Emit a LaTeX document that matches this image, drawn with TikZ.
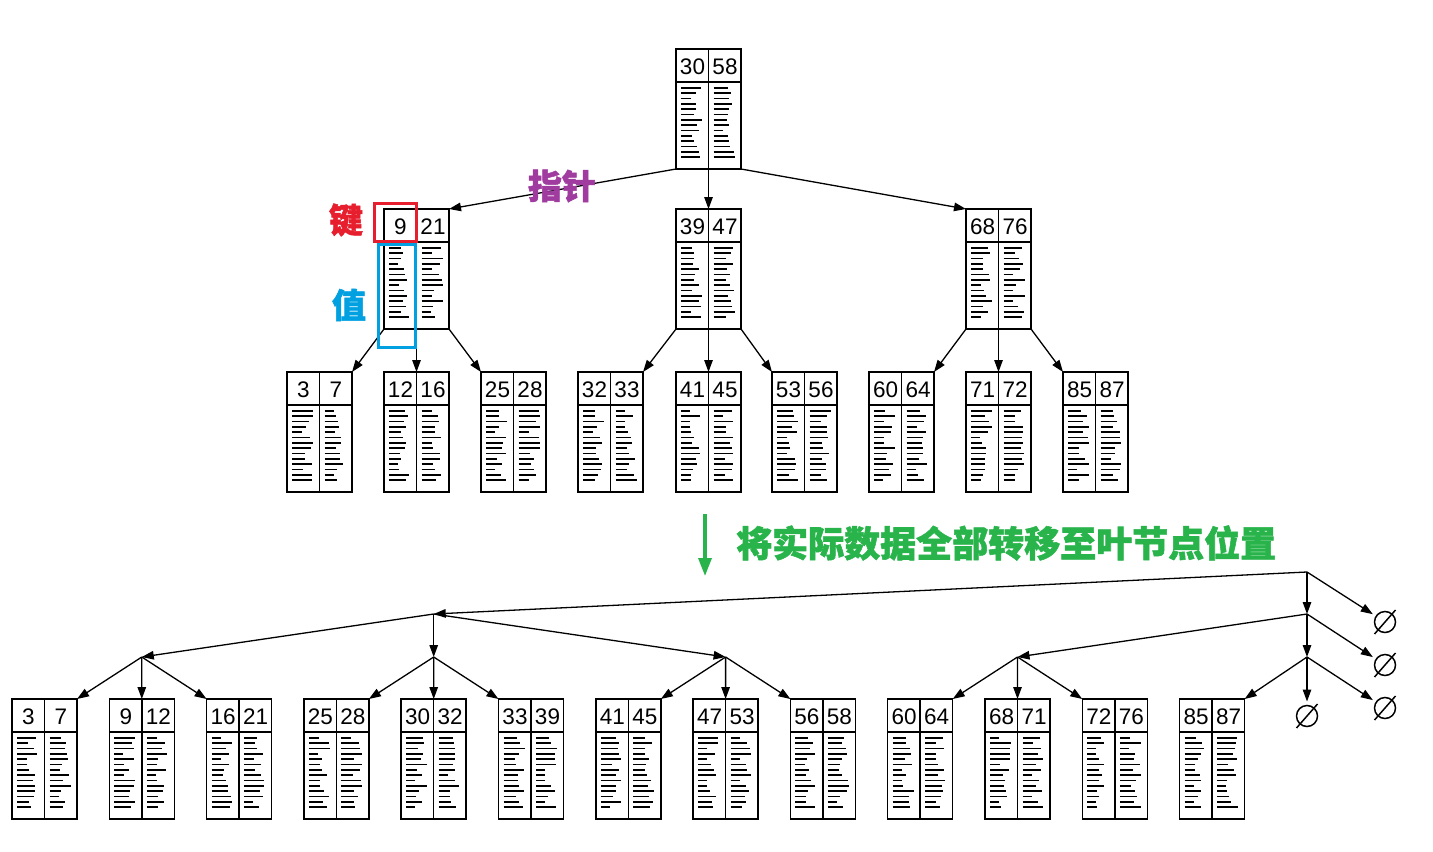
\documentclass[tikz,border=0pt]{standalone}
\usepackage{fontspec}
\setmainfont{Liberation Sans}
\newfontfamily\cjk{Noto Sans CJK SC}[BoldFeatures={FakeBold=1.5}]
\usetikzlibrary{arrows.meta}
\definecolor{keyred}{RGB}{230,30,45}
\definecolor{valblue}{RGB}{0,160,225}
\definecolor{ptrpurple}{RGB}{160,60,160}
\definecolor{movegreen}{RGB}{40,180,75}
\tikzset{
  bbox/.style={draw, line width=1.5bp, minimum width=65bp, minimum height=120bp, anchor=north west, inner sep=0pt, outer sep=0pt},
  conn/.style={line width=1.3bp, -{Triangle[length=12bp,width=8.5bp]}},
  keytxt/.style={font=\fontsize{22.5bp}{23bp}\selectfont, inner sep=0pt},
  stripe/.style={line width=1.8bp},
  nullsym/.style={draw, circle, line width=1.5bp, minimum size=21bp, inner sep=0pt, outer sep=4bp},
  cjklbl/.style={font=\cjk\bfseries\fontsize{34bp}{36bp}\selectfont, inner sep=0pt}
}
\newcommand\valcol[2]{%
  \foreach \i in {0,...,13}{%
    \pgfmathsetmacro\len{random(9,21)}%
    \draw[stripe] (#1+5,#2+5.7+\i*5.35) -- ++(\len,0);
  }}
\newcommand\bpt[5]{%
  \node[bbox] (#1) at (#2,#3) {};
  \draw[line width=1.5bp] (#2,#3+33) -- (#2+65,#3+33);
  \draw[line width=1.5bp] (#2+32.5,#3) -- (#2+32.5,#3+120);
  \node[keytxt] (#1ka) at (#2+16.5,#3+17.5) {#4};
  \node[keytxt] (#1kb) at (#2+49,#3+17.5) {#5};
  \valcol{#2}{#3+33}
  \valcol{#2+32.5}{#3+33}
}
\newcommand\nullslash[1]{\draw[line width=1.5bp] (#1.center) +(-10.5,12) -- +(10.5,-12);}
\pgfmathsetseed{4242}
\begin{document}
\begin{tikzpicture}[x=1bp,y=-1bp]
\fill[white] (0,0) rectangle (1433,851);
\useasboundingbox (0,0) rectangle (1433,851);
% ---------- upper tree ----------
\bpt{R}{676}{49}{30}{58}
\bpt{A}{384}{209}{9}{21}
\bpt{B}{676}{209}{39}{47}
\bpt{C}{966}{209}{68}{76}
\foreach \x/\a/\b [count=\n] in {287/3/7,384/12/16,481/25/28,578/32/33,676/41/45,772/53/56,869/60/64,966/71/72,1063/85/87}{
  \bpt{t\n}{\x}{372}{\a}{\b}
}
\draw[conn] (R.south west) -- (A.north east);
\draw[conn] (R.south) -- (B.north);
\draw[conn] (R.south east) -- (C.north west);
\draw[conn] (A.south west) -- (t1.north east);
\draw[conn] (A.south) -- (t2.north);
\draw[conn] (A.south east) -- (t3.north west);
\draw[conn] (B.south west) -- (t4.north east);
\draw[conn] (B.south) -- (t5.north);
\draw[conn] (B.south east) -- (t6.north west);
\draw[conn] (C.south west) -- (t7.north east);
\draw[conn] (C.south) -- (t8.north);
\draw[conn] (C.south east) -- (t9.north west);
% labels
\node[draw=keyred, line width=3bp, minimum width=42bp, minimum height=38bp, inner sep=0pt] (keybox) at (395,222) {};
\node[draw=valblue, line width=3bp, minimum width=37bp, minimum height=103bp, inner sep=0pt] (valbox) at (396.5,295.5) {};
\node[cjklbl, text=keyred] (keylbl) at (346,220) {键};
\node[cjklbl, text=valblue] (vallbl) at (349,305) {值};
\node[cjklbl, text=ptrpurple] (ptrlbl) at (562,186) {指针};
% ---------- transition ----------
\coordinate (g1) at (705,514);
\coordinate (g2) at (705,576);
\draw[movegreen, line width=3.2bp, -{Triangle[length=18bp,width=13bp]}] (g1) -- (g2);
\node[anchor=west, text=movegreen, font=\cjk\bfseries\fontsize{36bp}{37bp}\selectfont, inner sep=0pt] (movelbl) at (736,543) {将实际数据全部转移至叶节点位置};
% ---------- lower tree ----------
\foreach \k/\a/\b [count=\n] in {0/3/7,1/9/12,2/16/21,3/25/28,4/30/32,5/33/39,6/41/45,7/47/53,8/56/58,9/60/64,10/68/71,11/72/76,12/85/87}{
  \bpt{b\n}{12+97.3*\k}{699}{\a}{\b}
}
\coordinate (r0) at (1307,572);
\coordinate (p1) at (433.7,614);
\coordinate (p2) at (1307,614);
\coordinate (q1) at (141.8,657);
\coordinate (q2) at (433.7,657);
\coordinate (q3) at (725.6,657);
\coordinate (q4) at (1017.5,657);
\coordinate (q5) at (1307,657);
\node[nullsym] (z1) at (1385,622) {};
\node[nullsym] (z2) at (1385,665) {};
\node[nullsym] (z3) at (1385,708) {};
\node[nullsym] (z4) at (1307,716) {};
\nullslash{z1}\nullslash{z2}\nullslash{z3}\nullslash{z4}
\draw[conn] (r0) -- (p1);
\draw[conn] (r0) -- (p2);
\draw[conn] (r0) -- (z1);
\draw[conn] (p1) -- (q1);
\draw[conn] (p1) -- (q2);
\draw[conn] (p1) -- (q3);
\draw[conn] (p2) -- (q4);
\draw[conn] (p2) -- (q5);
\draw[conn] (p2) -- (z2);
\draw[conn] (q1) -- (b1.north east);
\draw[conn] (q1) -- (b2.north);
\draw[conn] (q1) -- (b3.north west);
\draw[conn] (q2) -- (b4.north east);
\draw[conn] (q2) -- (b5.north);
\draw[conn] (q2) -- (b6.north west);
\draw[conn] (q3) -- (b7.north east);
\draw[conn] (q3) -- (b8.north);
\draw[conn] (q3) -- (b9.north west);
\draw[conn] (q4) -- (b10.north east);
\draw[conn] (q4) -- (b11.north);
\draw[conn] (q4) -- (b12.north west);
\draw[conn] (q5) -- (b13.north east);
\draw[conn] (q5) -- (z4);
\draw[conn] (q5) -- (z3);
\end{tikzpicture}
\end{document}
